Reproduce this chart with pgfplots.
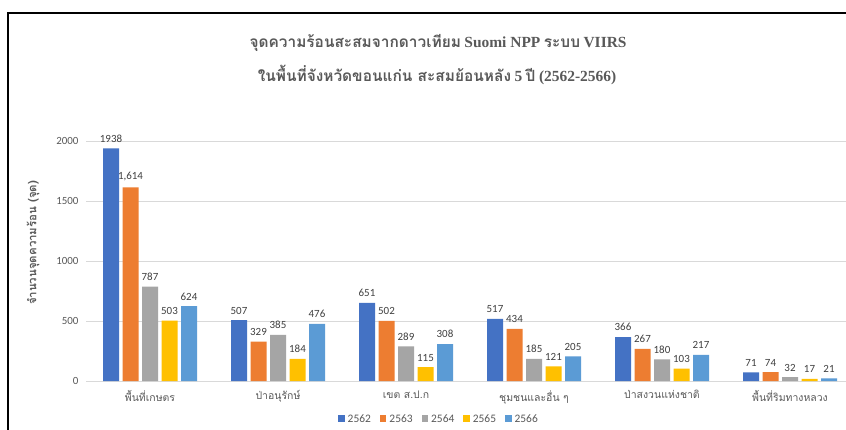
\documentclass[border=0pt]{standalone}
\usepackage{pgfplots}
\pgfplotsset{compat=1.18}
\usepackage{fontspec}
\setmainfont{Carlito}
\newfontfamily\thai[Script=Thai]{Loma}
\newfontfamily\serif{Liberation Serif}
\definecolor{cA}{HTML}{4472C4}
\definecolor{cB}{HTML}{ED7D31}
\definecolor{cC}{HTML}{A5A5A5}
\definecolor{cD}{HTML}{FFC000}
\definecolor{cE}{HTML}{5B9BD5}
\definecolor{txt}{HTML}{595959}
\definecolor{lab}{HTML}{404040}
\definecolor{grd}{HTML}{D9D9D9}

\pgfplotstableread{
x y lab
0 1938 1938
1 507 507
2 651 651
3 517 517
4 366 366
5 71 71
}\dA
\pgfplotstableread{
x y lab
0 1614 1,614
1 329 329
2 502 502
3 434 434
4 267 267
5 74 74
}\dB
\pgfplotstableread{
x y lab
0 787 787
1 385 385
2 289 289
3 185 185
4 180 180
5 32 32
}\dC
\pgfplotstableread{
x y lab
0 503 503
1 184 184
2 115 115
3 121 121
4 103 103
5 17 17
}\dD
\pgfplotstableread{
x y lab
0 624 624
1 476 476
2 308 308
3 205 205
4 217 217
5 21 21
}\dE

\begin{document}
\begin{tikzpicture}
\useasboundingbox (0,0) rectangle (846bp,-430bp);
\fill[white] (0,0) rectangle (846bp,-430bp);
\draw[line width=1.5bp] (8bp,-430bp) -- (8bp,-13bp) -- (846bp,-13bp);
\begin{axis}[
  at={(86bp,-381bp)}, anchor=south west,
  scale only axis, width=760bp, height=240bp,
  xmin=-0.5, xmax=5.4375, ymin=0, ymax=2000,
  clip=false,
  axis line style={draw=none},
  ymajorgrids, grid style={grd, line width=0.8bp},
  major tick length=0,
  ytick={0,500,1000,1500,2000},
  xtick={0,1,2,3,4,5},
  xticklabels={พื้นที่เกษตร,ป่าอนุรักษ์,เขต ส.ป.ก,ชุมชนและอื่น ๆ,ป่าสงวนแห่งชาติ,พื้นที่ริมทางหลวง},
  xticklabel style={font=\thai\fontsize{10.5}{12}\selectfont, text=txt, yshift=-6bp},
  yticklabel style={font=\fontsize{11}{12}\selectfont, text=txt, xshift=-4bp},
  /pgf/number format/assume math mode=true,
  yticklabel={\pgfmathprintnumber[fixed,1000 sep={}]{\tick}},
  ybar=3.5bp, bar width=16bp,
  point meta=explicit symbolic,
  nodes near coords,
  nodes near coords style={font=\fontsize{11}{12}\selectfont, text=lab, anchor=south, yshift=2.5bp},
  legend style={at={(0.4645,-0.158)}, anchor=center, draw=none, fill=none,
    font=\fontsize{11.5}{12}\selectfont, text=txt, legend columns=5,
    /tikz/every odd column/.append style={column sep=1bp},
    /tikz/every even column/.append style={column sep=7bp}},
  legend image code/.code={\fill[#1] (0bp,-3.5bp) rectangle (6.5bp,3.5bp);},
]
\addplot[fill=cA, draw=none] table[x=x,y=y,meta=lab] {\dA};
\addplot[fill=cB, draw=none] table[x=x,y=y,meta=lab] {\dB};
\addplot[fill=cC, draw=none] table[x=x,y=y,meta=lab] {\dC};
\addplot[fill=cD, draw=none] table[x=x,y=y,meta=lab] {\dD};
\addplot[fill=cE, draw=none] table[x=x,y=y,meta=lab] {\dE};
\legend{2562,2563,2564,2565,2566}
\end{axis}
\node[text=txt, font=\fontsize{15.5}{18}\selectfont\bfseries] at (438bp,-43bp)
  {{\thai จุดความร้อนสะสมจากดาวเทียม} {\serif Suomi NPP} {\thai ระบบ} {\serif VIIRS}};
\node[text=txt, font=\fontsize{15.5}{18}\selectfont\bfseries] at (437bp,-75bp)
  {{\thai ในพื้นที่จังหวัดขอนแก่น สะสมย้อนหลัง} {\serif 5} {\thai ปี} {\serif (2562-2566)}};
\node[rotate=90, text=txt, font=\thai\bfseries\fontsize{11.5}{12}\selectfont] at (33bp,-243bp)
  {จำนวนจุดความร้อน (จุด)};
\end{tikzpicture}
\end{document}
